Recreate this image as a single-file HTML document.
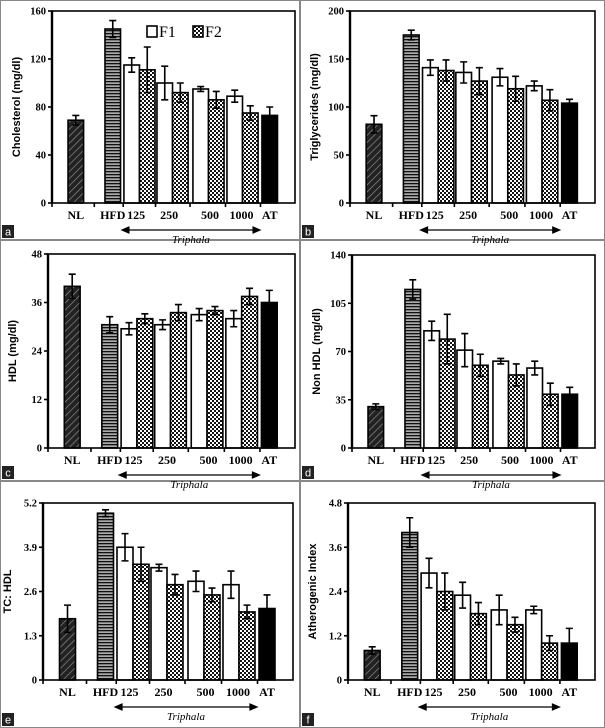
<!DOCTYPE html>
<html><head><meta charset="utf-8"><style>
html,body{margin:0;padding:0;background:#fff}
svg{display:block}
</style></head><body>
<svg id="fig" width="605" height="728" viewBox="0 0 605 728" xmlns="http://www.w3.org/2000/svg">
<defs>
<pattern id="pNL" width="5" height="5" patternUnits="userSpaceOnUse" patternTransform="rotate(45)"><rect width="5" height="5" fill="#222"/><line x1="0" y1="0" x2="0" y2="5" stroke="#999" stroke-width="1.2"/></pattern>
<pattern id="pHFD" width="4" height="3" patternUnits="userSpaceOnUse"><rect width="4" height="3" fill="#aaa"/><rect width="4" height="1.3" fill="#111"/></pattern>
<pattern id="pF2" width="4" height="4" patternUnits="userSpaceOnUse"><rect width="4" height="4" fill="#fff"/><rect width="2" height="2" fill="#111"/><rect x="2" y="2" width="2" height="2" fill="#111"/></pattern>
</defs>
</svg>
<script>
// ---- data ----
const categories = ["NL","HFD","125","250","500","1000","AT"];
const doses = ["125","250","500","1000"];
// panel a: Cholesterol
const cholNL=[69,4], cholHFD=[145,7], cholAT=[73,7];
const cholF1=[115,100,95,89], cholF1err=[6,14,2,5];
const cholF2=[111,92,86,75], cholF2err=[19,8,7,6];
const cholTicks=[0,40,80,120,160];
// panel b: Triglycerides
const tgNL=[82,9], tgHFD=[175,5], tgAT=[104,4];
const tgF1=[141,136,131,122], tgF1err=[8,11,9,5];
const tgF2=[138,127,119,107], tgF2err=[11,14,13,11];
const tgTicks=[0,50,100,150,200];
// panel c: HDL
const hdlNL=[40,3], hdlHFD=[30.5,2], hdlAT=[36,3];
const hdlF1=[29.5,30.5,33,32], hdlF1err=[1.5,1.2,1.5,2];
const hdlF2=[32,33.5,34,37.5], hdlF2err=[1.2,2,1,2];
const hdlTicks=[0,12,24,36,48];
// panel d: Non HDL
const nhNL=[30,2], nhHFD=[115,7], nhAT=[39,5];
const nhF1=[85,71,63,58], nhF1err=[7,12,2,5];
const nhF2=[79,60,53,39], nhF2err=[18,8,8,8];
const nhTicks=[0,35,70,105,140];
// panel e: TC:HDL
const tcNL=[1.8,0.4], tcHFD=[4.9,0.1], tcAT=[2.1,0.4];
const tcF1=[3.9,3.3,2.9,2.8], tcF1err=[0.4,0.1,0.3,0.4];
const tcF2=[3.4,2.8,2.5,2.0], tcF2err=[0.5,0.3,0.2,0.2];
const tcTicks=[0,1.3,2.6,3.9,5.2];
// panel f: Atherogenic index
const aiNL=[0.8,0.1], aiHFD=[4.0,0.4], aiAT=[1.0,0.4];
const aiF1=[2.9,2.3,1.9,1.9], aiF1err=[0.4,0.35,0.4,0.1];
const aiF2=[2.4,1.8,1.5,1.0], aiF2err=[0.5,0.3,0.2,0.2];
const aiTicks=[0,1.2,2.4,3.6,4.8];

const SERIF="font-family:'Liberation Serif',serif;";
const SANS="font-family:'Liberation Sans',sans-serif;";
const ST_TK=SERIF+"font-weight:bold;font-size:10.5px";
const ST_CAT=SERIF+"font-weight:bold;font-size:12px";
const ST_YT=SANS+"font-weight:bold;font-size:11px";
const ST_TRI=SERIF+"font-style:italic;font-size:11px";
const ST_PL=SANS+"font-size:11px;fill:#fff";

const NS="http://www.w3.org/2000/svg";
const svg=document.getElementById('fig');
function mk(tag,attrs,parent,text){const e=document.createElementNS(NS,tag);for(const k in attrs)e.setAttribute(k,attrs[k]);if(text!==undefined)e.textContent=text;(parent||svg).appendChild(e);return e;}

// panel frames
const frames=[[0,0,300,240,'a'],[300,0,305,240,'b'],[0,240,300,241,'c'],[300,240,305,241,'d'],[0,481,300,247,'e'],[300,481,305,247,'f']];
frames.forEach(f=>{
  const r=mk('rect',{x:f[0]+0.5,y:f[1]+0.5,width:f[2]-1,height:f[3]-1,fill:'none',stroke:'#888','stroke-width':1});
  
  
  const b=mk('rect',{x:f[0]+2,y:f[1]+f[3]-15,width:12,height:13,fill:'#222'});
  
  
  const t=mk('text',{x:f[0]+8,y:f[1]+f[3]-4.5,'text-anchor':'middle',style:ST_PL},null,f[4]);
  
  
});

const fr={NL:0.066,HFD:0.218,F1:[0.296,0.432,0.580,0.72],AT:0.864};
const BW=0.064;

function panel(id,box,ticks,ytitle,NL,HFD,AT,F1,F1e,F2,F2e,legend){
  const g=mk('g',{});
  
  
  const [l,t,r,b]=box, W=r-l, max=ticks[ticks.length-1];
  const y=v=>b-(v/max)*(b-t);
  const xf=f=>l+f*W, bw=BW*W;
  function bar(x,v,e,fill,name){
    const rc=mk('rect',{x:x,y:y(v),width:bw,height:b-y(v),fill:fill,stroke:'#000','stroke-width':1.6},g);
    
    
    const cx=x+bw/2, eg=mk('path',{d:`M${cx} ${y(v+e)}V${y(v-e)}M${cx-3.5} ${y(v+e)}H${cx+3.5}M${cx-3.5} ${y(v-e)}H${cx+3.5}`,stroke:'#000','stroke-width':1.6,fill:'none'},g);
    
    
  }
  bar(xf(fr.NL),NL[0],NL[1],'url(#pNL)','bar-nl');
  bar(xf(fr.HFD),HFD[0],HFD[1],'url(#pHFD)','bar-hfd');
  F1.forEach((v,i)=>{bar(xf(fr.F1[i]),v,F1e[i],'#fff','bar-f1-'+doses[i]);});
  F2.forEach((v,i)=>{bar(xf(fr.F1[i])+bw,v,F2e[i],'url(#pF2)','bar-f2-'+doses[i]);});
  bar(xf(fr.AT),AT[0],AT[1],'#000','bar-at');
  const bx=mk('rect',{x:l,y:t,width:W,height:b-t,fill:'none',stroke:'#000','stroke-width':1.6},g);
  
  
  mk('line',{x1:l,y1:t,x2:l,y2:b,stroke:'#000','stroke-width':2.4},g);
  ticks.forEach(v=>{
    const tl=mk('line',{x1:l-4,y1:y(v),x2:l,y2:y(v),stroke:'#000','stroke-width':1.6},g);
    
    
    const tx=mk('text',{x:l-6,y:y(v)+3.5,'text-anchor':'end',style:ST_TK},g,String(v));
    
    
  });
  const sep=[(fr.NL+BW+fr.HFD)/2,fr.F1[0]-0.003,fr.F1[1]-0.006,fr.F1[2]-0.012,fr.F1[3]-0.006,fr.AT-0.006];
  mk('line',{x1:l,y1:b+4,x2:l,y2:b,stroke:'#000','stroke-width':1.6},g);
  sep.forEach(s=>{const xt=mk('line',{x1:xf(s),y1:b,x2:xf(s),y2:b+4,stroke:'#000','stroke-width':1.6},g);
    
    });
  const catX=[fr.NL+BW/2,fr.HFD+BW/2,fr.F1[0]+0.05,fr.F1[1]+0.05,fr.F1[2]+0.07,fr.F1[3]+0.06,fr.AT+BW/2];
  categories.forEach((c,i)=>{
    const ct=mk('text',{x:xf(catX[i]),y:b+16,'text-anchor':'middle',style:ST_CAT},g,c);
    
    
  });
  const ax1=xf(fr.F1[0])-2, ax2=xf(fr.F1[3]+2*BW)+2, ay=b+27;
  const ar=mk('path',{d:`M${ax1+6} ${ay}H${ax2-6}M${ax1} ${ay}l7 -3v6zM${ax2} ${ay}l-7 -3v6z`,stroke:'#000','stroke-width':1.2,fill:'#000'},g);
  
  
  const tr=mk('text',{x:(ax1+ax2)/2,y:b+40,'text-anchor':'middle',style:ST_TRI},g,'Triphala');
  
  
  const cy=(t+b)/2, ytx=l-32;
  const yt=mk('text',{x:ytx,y:cy,'text-anchor':'middle',style:ST_YT,transform:`rotate(-90 ${ytx} ${cy})`},g,ytitle);
  
  
  if(legend){
    const lg=mk('g',{},g);
    
    
    const e1=mk('rect',{x:147,y:26,width:10,height:11,fill:'#fff',stroke:'#000','stroke-width':1.6},lg);
    
    
    const t1=mk('text',{x:159,y:37,style:SERIF+'font-size:16px'},lg,'F1');
    
    
    const e2=mk('rect',{x:193,y:26,width:10,height:11,fill:'url(#pF2)',stroke:'#000','stroke-width':1.6},lg);
    
    
    const t2=mk('text',{x:205,y:37,style:SERIF+'font-size:16px'},lg,'F2');
    
    
  }
}
panel('cholesterol',[52,11,295,203],cholTicks,'Cholesterol (mg/dl)',cholNL,cholHFD,cholAT,cholF1,cholF1err,cholF2,cholF2err,true);
panel('triglycerides',[350,11,595,203],tgTicks,'Triglycerides (mg/dl)',tgNL,tgHFD,tgAT,tgF1,tgF1err,tgF2,tgF2err,false);
panel('hdl',[48,254,295,448],hdlTicks,'HDL (mg/dl)',hdlNL,hdlHFD,hdlAT,hdlF1,hdlF1err,hdlF2,hdlF2err,false);
panel('non-hdl',[352,255,595,448],nhTicks,'Non HDL (mg/dl)',nhNL,nhHFD,nhAT,nhF1,nhF1err,nhF2,nhF2err,false);
panel('tc-hdl',[43,503,293,680],tcTicks,'TC: HDL',tcNL,tcHFD,tcAT,tcF1,tcF1err,tcF2,tcF2err,false);
panel('atherogenic-index',[348,503,595,680],aiTicks,'Atherogenic Index',aiNL,aiHFD,aiAT,aiF1,aiF1err,aiF2,aiF2err,false);
</script>
</body></html>
